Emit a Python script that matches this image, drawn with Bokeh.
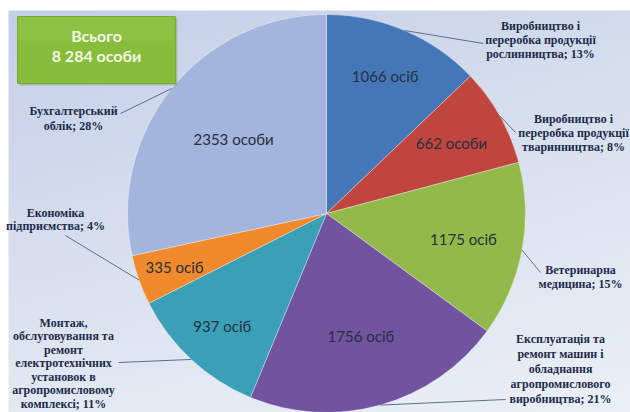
import numpy as np
from bokeh.plotting import figure
from bokeh.models import ColumnDataSource, Range1d
from bokeh.core.properties import value
from bokeh.embed import file_html
from bokeh.resources import INLINE

# ---------------- data ----------------
categories = [
    "Виробництво і переробка продукції рослинництва",
    "Виробництво і переробка продукції тваринництва",
    "Ветеринарна медицина",
    "Експлуатація та ремонт машин і обладнання агропромислового виробництва",
    "Монтаж, обслуговування та ремонт електротехнічних установок в агропромисловому комплексі",
    "Економіка підприємства",
    "Бухгалтерський облік",
]
counts = [1066, 662, 1175, 1756, 937, 335, 2353]
count_labels = ["1066 осіб", "662 особи", "1175 осіб", "1756 осіб", "937 осіб", "335 осіб", "2353 особи"]
percents = [13, 8, 15, 21, 11, 4, 28]
outer_lines = [
    ["Виробництво і", "переробка продукції", "рослинництва; 13%"],
    ["Виробництво і", "переробка продукції", "тваринництва; 8%"],
    ["Ветеринарна", "медицина; 15%"],
    ["Експлуатація та", "ремонт машин і", "обладнання", "агропромислового", "виробництва; 21%"],
    ["Монтаж,", "обслуговування та", "ремонт", "електротехнічних", "установок в", "агропромисловому", "комплексі; 11%"],
    ["Економіка", "підприємства; 4%"],
    ["Бухгалтерський", "облік; 28%"],
]
total_lines = ["Всього", "8 284 особи"]

# ---------------- style / layout ----------------
colors = ["#4577b8", "#c0453f", "#93b94a", "#7253a0", "#3aa0b8", "#f08a2c", "#a3b5dc"]
W, H = 630, 412


def Y(y_img):
    return H - y_img


cx, cy, R = 326, Y(213), 199
inner_frac = [0.75, 0.72, 0.70, 0.64, 0.77, 0.81, 0.60]
# outer label placement: (center x, first-line y, line step) in page pixels
outer_pos = [(540, 25, 14), (573, 118, 14), (580, 269, 14), (560, 338, 15),
             (63, 322, 13.5), (55, 212, 13.5), (73, 110, 15)]
leader_end = [(483, 43), (515, 132), (540, 272), (505, 399), (118, 362), (65, 235), (120, 113)]

p = figure(width=W, height=H, x_range=Range1d(0, W), y_range=Range1d(0, H),
           output_backend="svg", toolbar_location=None, x_axis_type=None, y_axis_type=None,
           min_border=0)
p.outline_line_color = None
p.grid.visible = False
p.background_fill_color = "white"
p.border_fill_color = "white"

# background gradient
def hx(c):
    return np.array([int(c[i:i + 2], 16) for i in (1, 3, 5)], dtype=float)

tl, tr, bl, br = hx("#c4cfe8"), hx("#d3dcec"), hx("#e3e9f3"), hx("#ebf0f7")
ny, nx = 64, 64
t = np.linspace(0, 1, ny)[:, None, None]  # 0 bottom -> 1 top
s = np.linspace(0, 1, nx)[None, :, None]
top = tl * (1 - s) + tr * s
bot = bl * (1 - s) + br * s
rgb = bot * (1 - t) + top * t
img = np.empty((ny, nx), dtype=np.uint32)
view = img.view(dtype=np.uint8).reshape((ny, nx, 4))
view[:, :, :3] = rgb.astype(np.uint8)
view[:, :, 3] = 255
p.image_rgba(image=[img], x=8, y=0, dw=W - 8, dh=Y(10))

# pie
total = sum(counts)
cum = np.cumsum([0] + counts) / total
start = np.pi / 2 - cum[:-1] * 2 * np.pi
end = np.pi / 2 - cum[1:] * 2 * np.pi
mid = (cum[:-1] + cum[1:]) / 2 * 2 * np.pi  # clockwise from top
src = ColumnDataSource(dict(start=start, end=end, color=colors, cat=categories, n=counts))
p.wedge(x=cx, y=cy, radius=R, start_angle="start", end_angle="end", direction="clock",
        fill_color="color", line_color="#ffffff", line_alpha=0.35, line_width=1, source=src)

# leader lines
x0s = cx + R * np.sin(mid)
y0s = cy + R * np.cos(mid)
p.segment(x0=list(x0s), y0=list(y0s), x1=[e[0] for e in leader_end], y1=[Y(e[1]) for e in leader_end],
          line_color="#5d6f8c", line_width=1)

# inner count labels
lx = cx + np.array(inner_frac) * R * np.sin(mid)
ly = cy + np.array(inner_frac) * R * np.cos(mid)
p.text(x=list(lx), y=list(ly), text=count_labels, text_font=value("Lato"), text_font_size="15px",
       text_color="#25303f", text_align="center", text_baseline="middle")

# outer category labels
ox, oy, ot = [], [], []
for lines, (x, y0, step) in zip(outer_lines, outer_pos):
    for i, ln in enumerate(lines):
        ox.append(x)
        oy.append(Y(y0 + i * step))
        ot.append(ln)
p.text(x=ox, y=oy, text=ot, text_font=value("Liberation Serif"), text_font_style="bold",
       text_font_size="12px", text_color="#1c2b4a", text_align="center", text_baseline="middle")

# total box
p.quad(left=19, right=177, top=Y(18), bottom=Y(85), fill_color="#6b8a3a", fill_alpha=0.35, line_color=None)
p.quad(left=17, right=175, top=Y(16), bottom=Y(83), fill_color="#88bd3c", line_color="#79aa33")
p.quad(left=18, right=174, top=Y(17), bottom=Y(40), fill_color="#9ccb55", fill_alpha=0.35, line_color=None)
p.text(x=[96, 96], y=[Y(35), Y(55)], text=total_lines, text_font=value("Lato"), text_font_style="bold",
       text_font_size="16px", text_color="#f2f7e4", text_align="center", text_baseline="middle")

open("out.html", "w").write(file_html(p, INLINE))
